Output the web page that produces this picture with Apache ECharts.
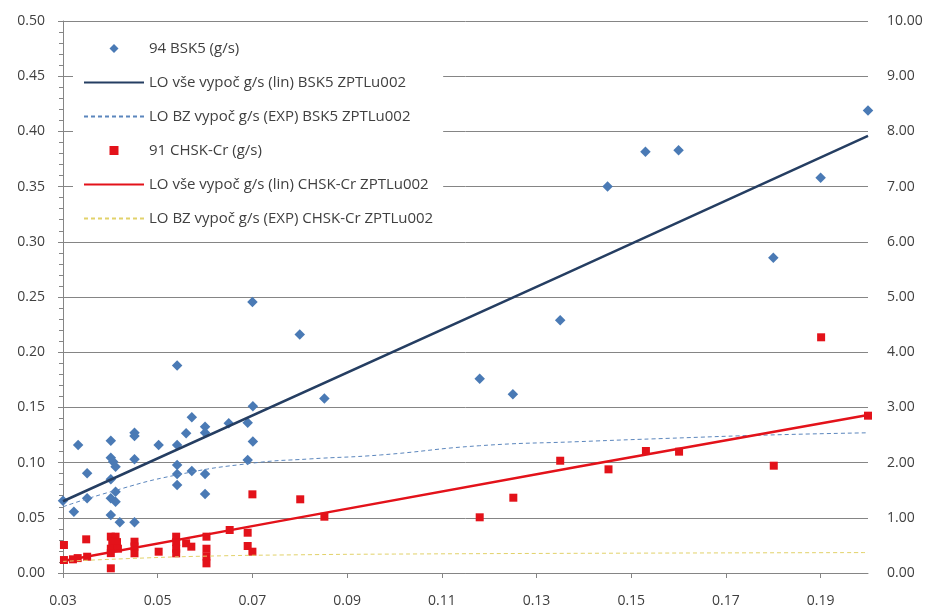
<!DOCTYPE html>
<html>
<head>
<meta charset="utf-8">
<script src="https://cdn.jsdelivr.net/npm/echarts@6/dist/echarts.min.js"></script>
<style>
  html, body { margin: 0; padding: 0; background: #fff; }
  #chart { width: 929px; height: 612px; }
</style>
</head>
<body>
<div id="chart"></div>
<script>
// Flow (x) against load in g/s; BSK5 on the left axis, CHSK-Cr on the right axis.
const xTicks = [0.03, 0.05, 0.07, 0.09, 0.11, 0.13, 0.15, 0.17, 0.19];

// 94 BSK5 (g/s) measurements: [flow, load]
const bsk5Points = [
  [0.030, 0.0655], [0.0323, 0.0555], [0.0332, 0.116], [0.0351, 0.0903], [0.0351, 0.0677],
  [0.0401, 0.1198], [0.0401, 0.1044], [0.0406, 0.1008], [0.0411, 0.0963], [0.0401, 0.0849],
  [0.0411, 0.0737], [0.0401, 0.0677], [0.0411, 0.0646], [0.0401, 0.0525], [0.0420, 0.0459],
  [0.0451, 0.127], [0.0451, 0.124], [0.0451, 0.103], [0.0451, 0.0459], [0.0502, 0.116],
  [0.0541, 0.188], [0.0541, 0.116], [0.0541, 0.0978], [0.0541, 0.0897], [0.0541, 0.0797],
  [0.0560, 0.1265], [0.0572, 0.141], [0.0572, 0.0924], [0.0600, 0.1325], [0.0600, 0.127],
  [0.0600, 0.0897], [0.0600, 0.0716], [0.0650, 0.1356], [0.0690, 0.136], [0.0701, 0.151],
  [0.0701, 0.119], [0.0690, 0.1024], [0.0700, 0.2455], [0.0800, 0.216], [0.0852, 0.158],
  [0.1180, 0.176], [0.1250, 0.162], [0.1350, 0.229], [0.1450, 0.350], [0.1530, 0.3816],
  [0.1600, 0.383], [0.1800, 0.2856], [0.1900, 0.358], [0.2000, 0.419]
];

// LO vše (lin) BSK5
const bsk5Lin = [[0.03, 0.065], [0.135, 0.269], [0.2, 0.396]];

// LO BZ (EXP) BSK5
const bsk5Exp = [
  [0.03, 0.060], [0.04, 0.0735], [0.054, 0.0888], [0.07, 0.0995], [0.082, 0.1033],
  [0.097, 0.1069], [0.118, 0.1153], [0.139, 0.119], [0.158, 0.122], [0.179, 0.125], [0.2, 0.127]
];

// 91 CHSK-Cr (g/s) measurements: [flow, load]
const chskPoints = [
  [0.0302, 0.507], [0.0302, 0.235], [0.0321, 0.248], [0.0331, 0.270], [0.0349, 0.610],
  [0.0351, 0.295], [0.0401, 0.658], [0.0411, 0.658], [0.0404, 0.567], [0.0414, 0.560],
  [0.0401, 0.440], [0.0416, 0.440], [0.0401, 0.360], [0.0401, 0.085], [0.0451, 0.567],
  [0.0451, 0.480], [0.0451, 0.357], [0.0502, 0.386], [0.0539, 0.658], [0.0539, 0.560],
  [0.0539, 0.440], [0.0539, 0.356], [0.0560, 0.538], [0.0571, 0.477], [0.0603, 0.658],
  [0.0603, 0.440], [0.0603, 0.300], [0.0603, 0.175], [0.0652, 0.779], [0.0690, 0.730],
  [0.0690, 0.489], [0.0700, 0.386], [0.0700, 1.425], [0.0801, 1.335], [0.0852, 1.020],
  [0.1180, 1.009], [0.1251, 1.364], [0.1350, 2.034], [0.1452, 1.878], [0.1531, 2.210],
  [0.1601, 2.198], [0.1801, 1.944], [0.1901, 4.270], [0.2000, 2.850]
];

// LO vše (lin) CHSK-Cr
const chskLin = [[0.03, 0.217], [0.0757, 0.94], [0.139, 1.93], [0.2, 2.862]];

// LO BZ (EXP) CHSK-Cr
const chskExp = [
  [0.03, 0.21], [0.045, 0.265], [0.06, 0.305], [0.08, 0.33], [0.1, 0.343],
  [0.14, 0.357], [0.2, 0.37]
];

const names = [
  '94 BSK5 (g/s)',
  'LO vše vypoč g/s (lin) BSK5 ZPTLu002',
  'LO BZ vypoč g/s (EXP) BSK5 ZPTLu002',
  '91 CHSK-Cr (g/s)',
  'LO vše vypoč g/s (lin) CHSK-Cr ZPTLu002',
  'LO BZ vypoč g/s (EXP) CHSK-Cr ZPTLu002'
];

const FONT = 'Open Sans';
const TEXT = '#404040';
const GRID = '#858585';

// Path icons keep their aspect ratio inside the wide legend slot.
const DIAMOND_ICON = 'path://M0,-1L1,0L0,1L-1,0Z';
const SQUARE_ICON = 'path://M0,0L1,0L1,1L0,1Z';
const hideDot = { itemStyle: { opacity: 0 } };

const chart = echarts.init(document.getElementById('chart'), null, { renderer: 'canvas' });

chart.setOption({
  animation: false,
  backgroundColor: '#ffffff',
  textStyle: { fontFamily: FONT },
  grid: { left: 63, right: 61, top: 21, bottom: 39, containLabel: false },
  legend: {
    orient: 'vertical',
    left: 73,
    top: 35,
    padding: [6, 10, 6, 10],
    backgroundColor: '#ffffff',
    itemWidth: 60,
    itemHeight: 9,
    itemGap: 19,
    symbolKeepAspect: true,
    textStyle: { fontFamily: FONT, fontSize: 15, color: TEXT },
    data: [
      { name: names[0], icon: DIAMOND_ICON },
      Object.assign({ name: names[1] }, hideDot),
      Object.assign({ name: names[2] }, hideDot),
      { name: names[3], icon: SQUARE_ICON },
      Object.assign({ name: names[4] }, hideDot),
      Object.assign({ name: names[5] }, hideDot)
    ]
  },
  xAxis: {
    type: 'value',
    min: 0.03,
    max: 0.2,
    axisLine: { show: true, lineStyle: { color: GRID, width: 1 } },
    axisTick: { show: true, customValues: xTicks, length: 5, lineStyle: { color: GRID } },
    axisLabel: {
      customValues: xTicks,
      margin: 21,
      fontFamily: FONT, fontSize: 14, color: TEXT,
      formatter: v => v.toFixed(2)
    },
    splitLine: { show: false }
  },
  yAxis: [
    {
      type: 'value',
      min: 0,
      max: 0.5,
      interval: 0.05,
      axisLine: { show: true, lineStyle: { color: GRID, width: 1 } },
      axisTick: { show: true, length: 5, lineStyle: { color: GRID } },
      minorTick: { show: true, splitNumber: 5, length: 4, lineStyle: { color: GRID } },
      axisLabel: {
        margin: 18,
        fontFamily: FONT, fontSize: 14, color: TEXT,
        formatter: v => v.toFixed(2)
      },
      splitLine: { show: true, lineStyle: { color: GRID, width: 1 } }
    },
    {
      type: 'value',
      min: 0,
      max: 10,
      interval: 1,
      position: 'right',
      axisLine: { show: false },
      axisTick: { show: false },
      axisLabel: {
        margin: 19,
        fontFamily: FONT, fontSize: 14, color: TEXT,
        formatter: v => v.toFixed(2)
      },
      splitLine: { show: false }
    }
  ],
  series: [
    {
      name: names[0],
      type: 'scatter',
      yAxisIndex: 0,
      symbol: 'diamond',
      symbolSize: 10.5,
      itemStyle: { color: '#4a7ab5', opacity: 1 },
      data: bsk5Points
    },
    {
      name: names[1],
      type: 'line',
      yAxisIndex: 0,
      symbol: 'none',
      showSymbol: false,
      lineStyle: { color: '#253e62', width: 2.5 },
      itemStyle: { color: '#253e62' },
      data: bsk5Lin
    },
    {
      name: names[2],
      type: 'line',
      yAxisIndex: 0,
      symbol: 'none',
      showSymbol: false,
      smooth: true,
      lineStyle: { color: '#5b86bd', width: 1, type: [4, 3] },
      itemStyle: { color: '#5b86bd' },
      data: bsk5Exp
    },
    {
      name: names[3],
      type: 'scatter',
      yAxisIndex: 1,
      symbol: 'rect',
      symbolSize: 8,
      itemStyle: { color: '#e3121a', opacity: 1 },
      data: chskPoints
    },
    {
      name: names[4],
      type: 'line',
      yAxisIndex: 1,
      symbol: 'none',
      showSymbol: false,
      lineStyle: { color: '#e3121a', width: 2.5 },
      itemStyle: { color: '#e3121a' },
      data: chskLin
    },
    {
      name: names[5],
      type: 'line',
      yAxisIndex: 1,
      symbol: 'none',
      showSymbol: false,
      smooth: true,
      lineStyle: { color: '#e2d26a', width: 1, type: [4, 3] },
      itemStyle: { color: '#e2d26a' },
      data: chskExp
    }
  ]
});
</script>
</body>
</html>
